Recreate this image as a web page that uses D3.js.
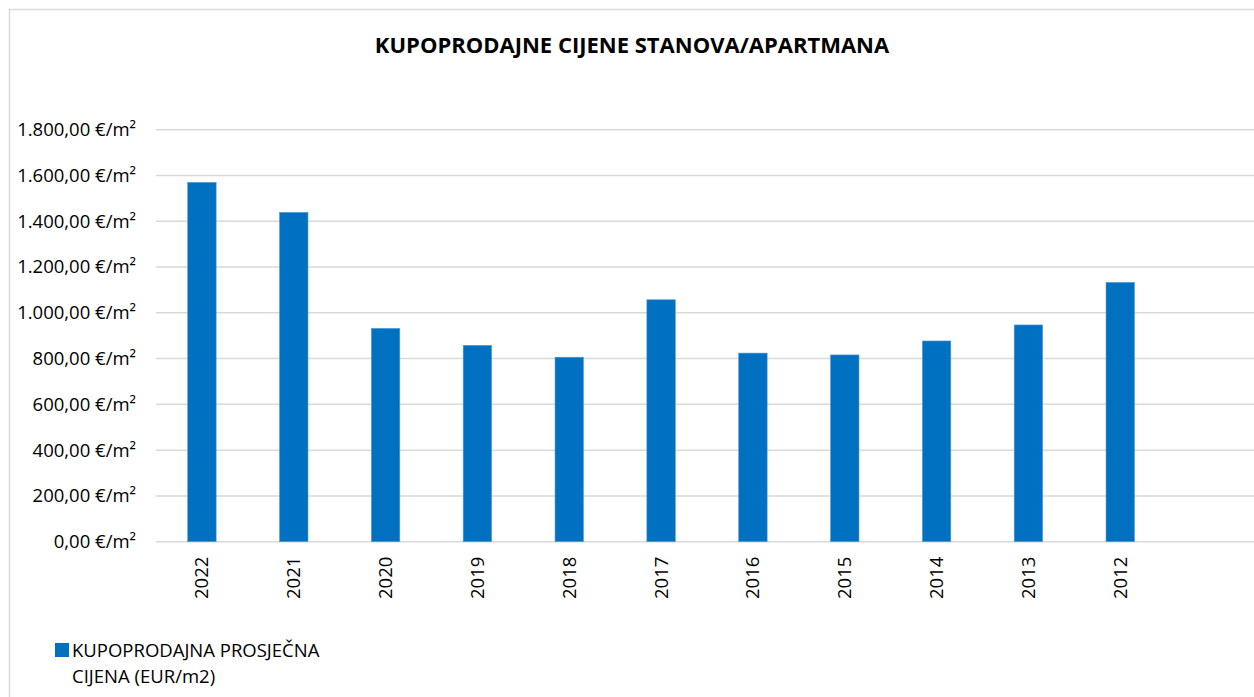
<!DOCTYPE html>
<html>
<head>
<meta charset="utf-8">
<script src="https://cdn.jsdelivr.net/npm/d3@7"></script>
<style>
    body { margin: 0; background: #fff; }
    svg text { font-family: "Open Sans", "Noto Sans", sans-serif; fill: #000; }
</style>
</head>
<body>
<div id="chart"></div>
<script>
// podaci
var years = ["2022", "2021", "2020", "2019", "2018", "2017", "2016", "2015", "2014", "2013", "2012"];
var prices = [1570, 1439, 932, 858, 806, 1057, 824, 816, 877, 947, 1133];
var yTicks = [0, 200, 400, 600, 800, 1000, 1200, 1400, 1600, 1800];
var seriesName = ["KUPOPRODAJNA PROSJEČNA", "CIJENA (EUR/m2)"];
var title = "KUPOPRODAJNE CIJENE STANOVA/APARTMANA";

var width = 1254;
var height = 697;
var plot = {left: 156, right: 1258, top: 129.7, bottom: 541.7};

var svg = d3.select("#chart")
    .append("svg")
    .attr("width", width)
    .attr("height", height);

// okvir
svg.append("rect")
    .attr("x", 9.5).attr("y", 9.5)
    .attr("width", width).attr("height", height)
    .attr("fill", "#fff")
    .attr("stroke", "#d9d9d9")
    .attr("stroke-width", 1.5);

var hr = d3.formatLocale({decimal: ",", thousands: ".", grouping: [3], currency: ["", " €"]});
var fmt = hr.format(",.2f");

// prazna zadnja kategorija kao u Excelu
var xScale = d3.scaleBand()
    .domain(years.concat([""]))
    .range([plot.left, plot.right])
    .paddingInner(0.69)
    .paddingOuter(0.345);
var yScale = d3.scaleLinear()
    .domain([0, 1800])
    .range([plot.bottom, plot.top]);

// mreža
svg.append("g")
    .selectAll("line")
    .data(yTicks)
    .enter().append("line")
    .attr("x1", plot.left)
    .attr("x2", plot.right)
    .attr("y1", function (d) { return yScale(d); })
    .attr("y2", function (d) { return yScale(d); })
    .attr("stroke", "#d9d9d9")
    .attr("stroke-width", 1.5);

// y os
var gy = svg.append("g")
    .attr("transform", "translate(" + plot.left + ",0)")
    .call(d3.axisLeft(yScale).tickValues(yTicks).tickSize(0).tickPadding(20)
        .tickFormat(function (d) { return fmt(d) + " €/m²"; }));
gy.select(".domain").remove();
gy.selectAll("text")
    .style("font-size", "18.5px")
    .style("font-family", "'Open Sans', sans-serif")
    .attr("fill", "#000");

// stupci
svg.append("g")
    .selectAll("rect")
    .data(prices)
    .enter().append("rect")
    .attr("x", function (d, i) { return xScale(years[i]); })
    .attr("y", function (d) { return yScale(d); })
    .attr("width", xScale.bandwidth())
    .attr("height", function (d) { return plot.bottom - yScale(d); })
    .attr("fill", "#0070c0")
    .attr("stroke", "#5b9bd5")
    .attr("stroke-width", 0.6);

// x os
var gx = svg.append("g")
    .attr("transform", "translate(0," + plot.bottom + ")")
    .call(d3.axisBottom(xScale).tickValues(years).tickSize(0));
gx.select(".domain").remove();
gx.selectAll("text")
    .attr("transform", "rotate(-90)")
    .attr("x", -15)
    .attr("y", 0)
    .attr("dy", "0.35em")
    .style("text-anchor", "end")
    .style("font-size", "18.5px")
    .style("font-family", "'Open Sans', sans-serif")
    .attr("fill", "#000");

// naslov
svg.append("text")
    .attr("x", 632)
    .attr("y", 53)
    .attr("text-anchor", "middle")
    .style("font-size", "22px")
    .style("font-weight", "bold")
    .text(title);

// legenda
svg.append("rect")
    .attr("x", 55).attr("y", 643)
    .attr("width", 14).attr("height", 14)
    .attr("fill", "#0070c0");
svg.append("g")
    .selectAll("text")
    .data(seriesName)
    .enter().append("text")
    .attr("x", 72)
    .attr("y", function (d, i) { return 657 + i * 26; })
    .style("font-size", "18.5px")
    .text(function (d) { return d; });
</script>
</body>
</html>
